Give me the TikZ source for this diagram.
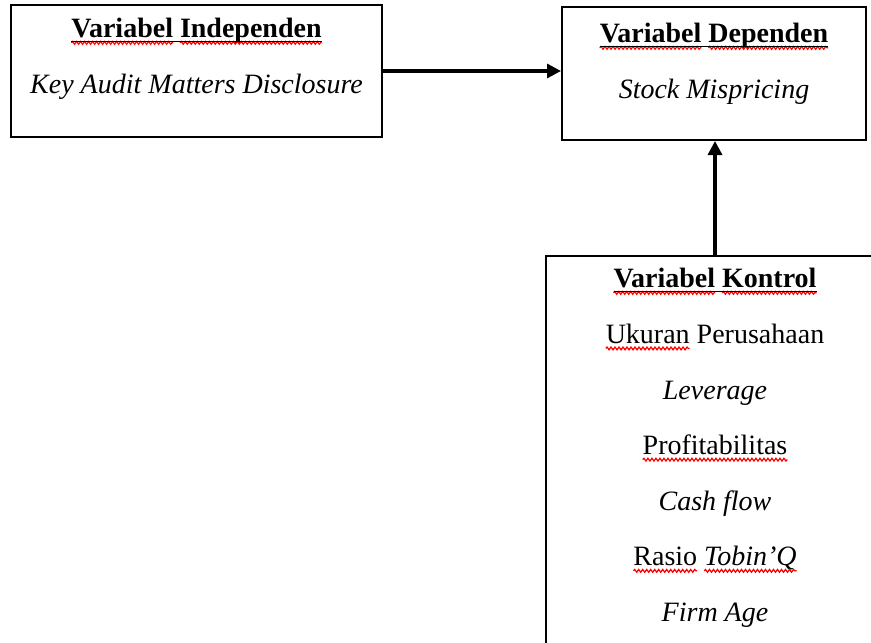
\documentclass[tikz,border=0pt]{standalone}
\usepackage{fontspec}
\setmainfont{Liberation Serif}
\usepackage{amsmath}
\usetikzlibrary{arrows.meta}
\usetikzlibrary{decorations.pathmorphing}
\usetikzlibrary{positioning}
\tikzset{
	varbox/.style={
		draw,
		rectangle,
		line width=1pt,
		inner sep=0pt,
	},
	vartext/.style={
		align=center,
		anchor=north,
		inner sep=0pt,
		font=\fontsize{14}{27.8}\selectfont,
	},
	spellwave/.style={
		red,
		line width=0.6pt,
		decorate,
		decoration={snake, amplitude=0.7pt, segment length=2pt},
	},
	link/.style={
		line width=1.6pt,
		-{Triangle[length=7pt,width=7pt]}
	},
}
% red spelling mark under one word
\newcommand{\spell}[1]{\tikz[baseline=(w.base)]{\node[inner sep=0pt, outer sep=0pt, anchor=base, align=none, font=] (w) {#1};
	\draw[spellwave, overlay] ([yshift=-2.5pt]w.base west) -- ([yshift=-2.5pt]w.base east);}}
\newcommand{\varhead}[2]{\underline{\smash[b]{\bfseries\spell{#1} \spell{#2}}}}

\begin{document}
\begin{tikzpicture}[x=0.5pt, y=-0.5pt]
	\path[use as bounding box, clip] (0,0) rectangle (871,642);

	\node[varbox, minimum width=185.5pt, minimum height=66pt] (indep) at (196.5,71) {};
	\node[varbox, minimum width=152pt, minimum height=66.5pt] (dep) at (714,73.5) {};
	\node[varbox, minimum width=169pt, minimum height=222pt] (kontrol) at (715,478) {};

	\node[vartext] (indeptxt) at ([yshift=-7pt]indep.north) {\varhead{Variabel}{Independen}\\ \textit{Key Audit Matters Disclosure}};
	\node[vartext] (deptxt) at ([yshift=-8.5pt]dep.north) {\varhead{Variabel}{Dependen}\\ \textit{Stock Mispricing}};
	\node[vartext] (kontroltxt) at ([yshift=-6.5pt]kontrol.north) {\varhead{Variabel}{Kontrol}\\
		\spell{Ukuran} Perusahaan\\
		\textit{Leverage}\\
		\spell{Profitabilitas}\\
		\textit{Cash flow}\\
		\spell{Rasio} \spell{\itshape Tobin’Q}\\
		\textit{Firm Age}};

	\draw[link] (indep.east) -- (indep.east -| dep.west);
	\draw[link] (kontrol.north) -- (kontrol.north |- dep.south);

\end{tikzpicture}
\end{document}
